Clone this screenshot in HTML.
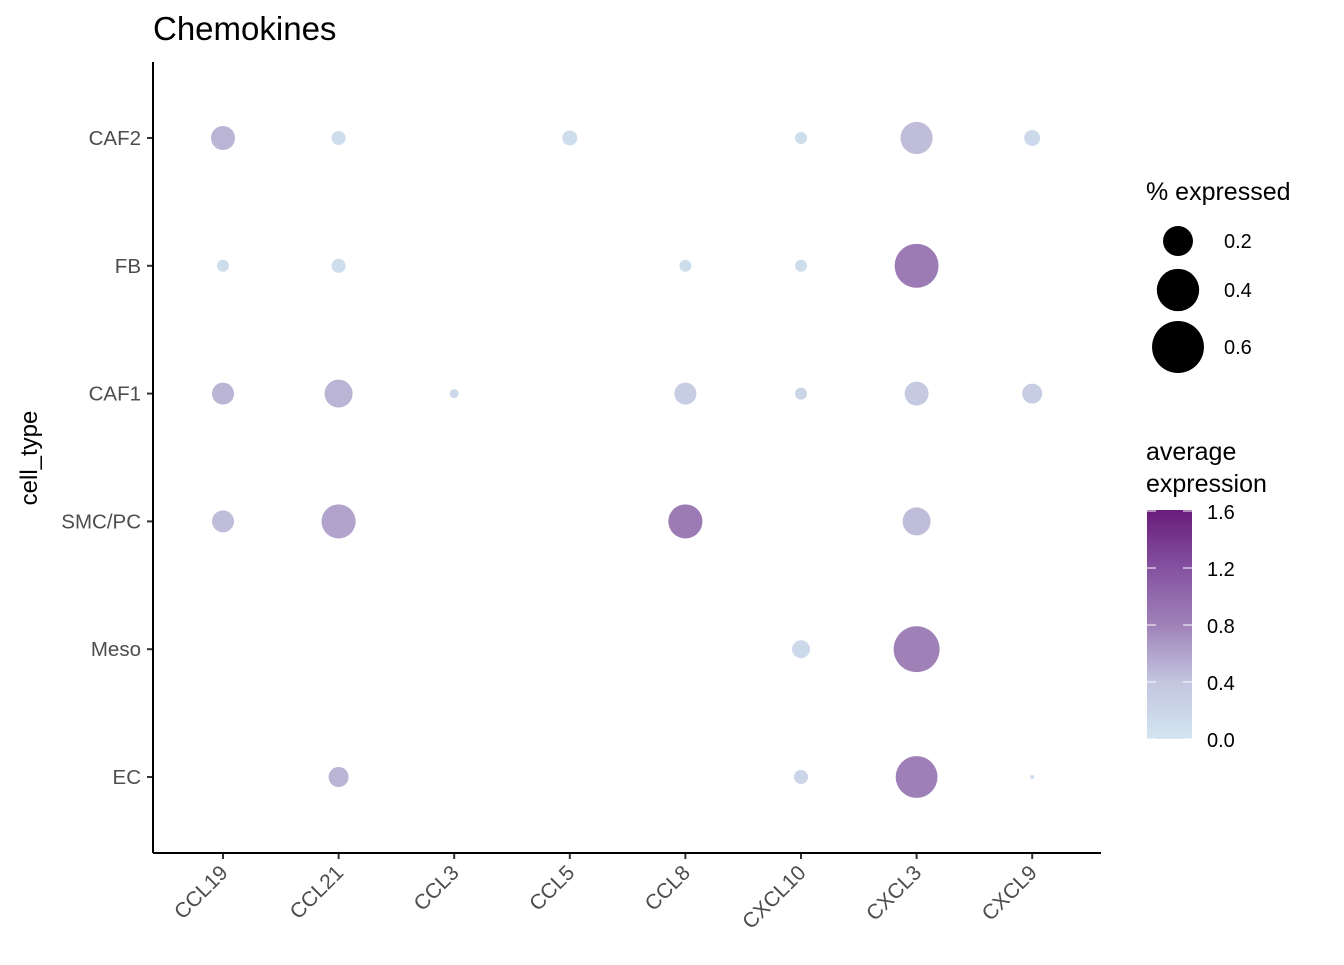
<!DOCTYPE html>
<html><head><meta charset="utf-8"><style>
body{margin:0;background:#fff;}
text{font-family:"Liberation Sans",sans-serif;}
</style></head><body>
<svg id="c" width="1344" height="960" xmlns="http://www.w3.org/2000/svg">
<defs><linearGradient id="g" x1="0" y1="1" x2="0" y2="0">
<stop offset="0" stop-color="#d2e5f0"/><stop offset="0.25" stop-color="#c3c5df"/>
<stop offset="0.5" stop-color="#9f81b8"/><stop offset="0.75" stop-color="#8451a0"/>
<stop offset="1" stop-color="#6a1b7b"/></linearGradient></defs>
<text x="153" y="40" font-size="33">Chemokines</text>
<g id="plot"></g>
<line x1="153" y1="62" x2="153" y2="853" stroke="#000" stroke-width="2"/>
<line x1="153" y1="853" x2="1101" y2="853" stroke="#000" stroke-width="2"/>
<text transform="translate(37,458) rotate(-90)" text-anchor="middle" font-size="24">cell_type</text>
<text x="1146" y="200" font-size="25">% expressed</text>
<g id="sizeleg"></g>
<text x="1146" y="460" font-size="25">average</text>
<text x="1146" y="492" font-size="25">expression</text>
<rect x="1147" y="510" width="45" height="229" fill="url(#g)"/>
<g id="colleg"></g>
</svg>
<script>
const genes=["CCL19","CCL21","CCL3","CCL5","CCL8","CXCL10","CXCL3","CXCL9"];
const cells=["CAF2","FB","CAF1","SMC/PC","Meso","EC"];
const ptGene=["CCL19","CCL21","CCL5","CXCL10","CXCL3","CXCL9",
"CCL19","CCL21","CCL8","CXCL10","CXCL3",
"CCL19","CCL21","CCL3","CCL8","CXCL10","CXCL3","CXCL9",
"CCL19","CCL21","CCL8","CXCL3",
"CXCL10","CXCL3",
"CCL21","CXCL10","CXCL3","CXCL9"];
const ptCell=["CAF2","CAF2","CAF2","CAF2","CAF2","CAF2",
"FB","FB","FB","FB","FB",
"CAF1","CAF1","CAF1","CAF1","CAF1","CAF1","CAF1",
"SMC/PC","SMC/PC","SMC/PC","SMC/PC",
"Meso","Meso",
"EC","EC","EC","EC"];
const pctExpr=[0.128,0.044,0.05,0.032,0.23,0.057,
0.032,0.044,0.032,0.032,0.43,
0.108,0.175,0.018,0.108,0.032,0.128,0.089,
0.108,0.26,0.26,0.175,
0.072,0.47,
0.089,0.044,0.39,0.004];
const avgExpr=[0.5,0.1,0.1,0.1,0.45,0.15,
0.1,0.1,0.1,0.1,0.85,
0.5,0.5,0.15,0.3,0.2,0.35,0.3,
0.45,0.6,0.85,0.45,
0.15,0.8,
0.5,0.2,0.82,0.1];
const sizeTicks=[0.2,0.4,0.6];
const colorTicks=[0,0.4,0.8,1.2,1.6];
const NS="http://www.w3.org/2000/svg";
const xS=g=>223+genes.indexOf(g)*115.6;
const yS=c=>138+cells.indexOf(c)*127.8;
const rS=p=>33.5*Math.sqrt(p);
const stops=[[0,[210,229,240]],[0.4,[195,197,223]],[0.8,[159,129,184]],[1.2,[132,81,160]],[1.6,[106,27,123]]];
function col(v){v=Math.max(0,Math.min(1.6,v));for(let i=0;i<stops.length-1;i++){const[a,ca]=stops[i],[b,cb]=stops[i+1];if(v<=b){const t=(v-a)/(b-a);return "rgb("+ca.map((x,k)=>Math.round(x+(cb[k]-x)*t)).join(",")+")";}}}
function mk(tag,at,parent){const e=document.createElementNS(NS,tag);for(const k in at)e.setAttribute(k,at[k]);parent.appendChild(e);return e;}
const plot=document.getElementById("plot");
cells.forEach(c=>{
 const t=mk("line",{x1:147,x2:153,y1:yS(c),y2:yS(c),stroke:"#333","stroke-width":2},plot);
 
 
 const l=mk("text",{x:141,y:yS(c)+7,"text-anchor":"end","font-size":20.5,fill:"#4d4d4d",textLength:null},plot);
 l.removeAttribute("textLength");
 l.textContent=c;
 
 
});
genes.forEach(g=>{
 const t=mk("line",{x1:xS(g),x2:xS(g),y1:853,y2:859,stroke:"#333","stroke-width":2},plot);
 
 
 const l=mk("text",{transform:`translate(${xS(g)+6},${874}) rotate(-45)`,"text-anchor":"end","font-size":21,fill:"#4d4d4d"},plot);
 l.textContent=g;
 
 
});
pctExpr.forEach((p,i)=>{
 const d=mk("circle",{cx:xS(ptGene[i]),cy:yS(ptCell[i]),r:rS(p),fill:col(avgExpr[i])},plot);
 
 
});
const sl=document.getElementById("sizeleg");
const sy=[241,290,347];
sizeTicks.forEach((s,i)=>{
 const d=mk("circle",{cx:1178,cy:sy[i],r:rS(s),fill:"#000"},sl);
 
 
 const l=mk("text",{x:1224,y:sy[i]+7,"font-size":20},sl);
 l.textContent=s.toFixed(1);
 
 
});
const cl=document.getElementById("colleg");
colorTicks.forEach(v=>{
 const y=739-v/1.6*228;
 const a=mk("line",{x1:1147,x2:1156,y1:y,y2:y,stroke:"#fff","stroke-width":1},cl);
 
 
 const b=mk("line",{x1:1183,x2:1192,y1:y,y2:y,stroke:"#fff","stroke-width":1},cl);
 
 
 const l=mk("text",{x:1207,y:y+8,"font-size":20},cl);
 l.textContent=v.toFixed(1);
 
 
});
</script>
</body></html>
